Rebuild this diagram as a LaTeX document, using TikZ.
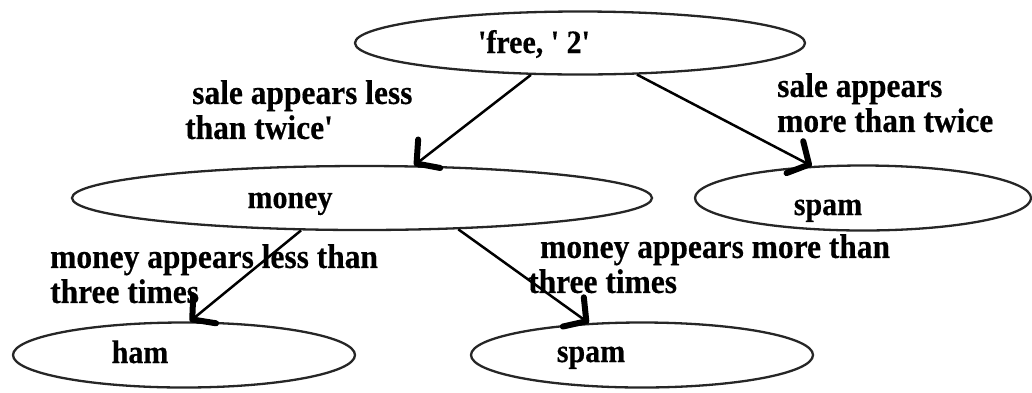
\documentclass[tikz,border=0pt]{standalone}
\usepackage{fontspec}
\setmainfont{Liberation Serif}[Ligatures=TeXOff, FakeStretch=0.92, FakeBold=0.4]
\usetikzlibrary{shapes.geometric,arrows.meta}
\begin{document}
\begin{tikzpicture}[x=1pt,y=-1pt,
  state/.style={ellipse, draw=black!85, line width=2.3pt, inner sep=0pt},
  nodetext/.style={font=\fontsize{32.6}{36}\selectfont\bfseries, anchor=base, inner sep=0pt},
  edgetext/.style={font=\fontsize{34.2}{35}\selectfont\bfseries, align=left, anchor=north west, inner sep=0pt},
  link/.style={line width=2.5pt, -{Straight Barb[length=16pt, width=36pt, line width=6pt, round]}}]
\useasboundingbox (0,0) rectangle (1032,392);

% decision tree: ellipses
\node[state, minimum width=450pt, minimum height=63pt] (root)  at (580,43)  {};
\node[state, minimum width=580pt, minimum height=64pt] (money) at (362,198) {};
\node[state, minimum width=336pt, minimum height=65pt] (spamA) at (863,198) {};
\node[state, minimum width=342pt, minimum height=65pt] (ham)   at (184,355) {};
\node[state, minimum width=342pt, minimum height=65pt] (spamB) at (642,355) {};

% texts inside the ellipses
\node[nodetext] (troot)  at (534,53)  {'free, ' 2'};
\node[nodetext] (tmoney) at (290,208) {money};
\node[nodetext] (tspamA) at (828,215) {spam};
\node[nodetext] (tham)   at (140,363) {ham};
\node[nodetext] (tspamB) at (591,362) {spam};

% branches
\draw[link] (root.213) -- (money.32);
\draw[link] (root.331) -- (spamA.148);
\draw[link] (money.208) -- (ham.80);
\draw[link] (money.342) -- (spamB.149);

% branch conditions
\node[edgetext] (c1) at (185,80) {\hspace*{7pt}sale appears less\\than twice'};
\node[edgetext] (c2) at (777,73) {sale appears\\more than twice};
\node[edgetext] (c3) at (50,244) {money appears less than\\three times};
\node[edgetext] (c4) at (528,234) {\hspace*{12pt}money appears more than\\three times};
\end{tikzpicture}
\end{document}
